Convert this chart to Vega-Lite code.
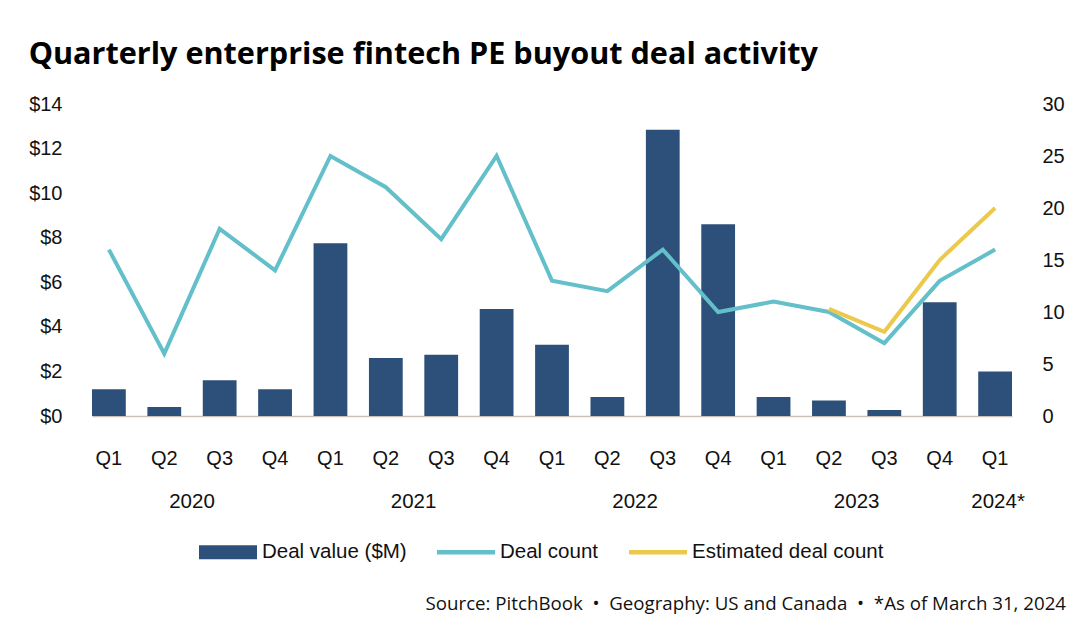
{
  "$schema": "https://vega.github.io/schema/vega-lite/v6.json",
  "width": 920,
  "height": 312,
  "autosize": "none",
  "padding": {"left": 92, "top": 104, "right": 80, "bottom": 220},
  "background": "white",
  "title": {
    "text": "Quarterly enterprise fintech PE buyout deal activity",
    "anchor": "start",
    "frame": "bounds",
    "font": "Open Sans",
    "fontSize": 30.6,
    "fontWeight": "bold",
    "color": "#000000",
    "offset": 23
  },
  "config": {
    "view": {"stroke": null},
    "font": "Liberation Sans",
    "axis": {"labelFont": "Liberation Sans", "labelFontSize": 20, "labelColor": "#111111", "grid": false, "ticks": false, "title": null}
  },
  "datasets": {
    "quarters": [
      {"period": "2020 Q1", "Deal value ($M)": 1.2, "Deal count": 16},
      {"period": "2020 Q2", "Deal value ($M)": 0.4, "Deal count": 6},
      {"period": "2020 Q3", "Deal value ($M)": 1.6, "Deal count": 18},
      {"period": "2020 Q4", "Deal value ($M)": 1.2, "Deal count": 14},
      {"period": "2021 Q1", "Deal value ($M)": 7.75, "Deal count": 25},
      {"period": "2021 Q2", "Deal value ($M)": 2.6, "Deal count": 22},
      {"period": "2021 Q3", "Deal value ($M)": 2.75, "Deal count": 17},
      {"period": "2021 Q4", "Deal value ($M)": 4.8, "Deal count": 25},
      {"period": "2022 Q1", "Deal value ($M)": 3.2, "Deal count": 13},
      {"period": "2022 Q2", "Deal value ($M)": 0.85, "Deal count": 12},
      {"period": "2022 Q3", "Deal value ($M)": 12.85, "Deal count": 16},
      {"period": "2022 Q4", "Deal value ($M)": 8.6, "Deal count": 10},
      {"period": "2023 Q1", "Deal value ($M)": 0.85, "Deal count": 11},
      {"period": "2023 Q2", "Deal value ($M)": 0.7, "Deal count": 10, "Estimated deal count": 10.3},
      {"period": "2023 Q3", "Deal value ($M)": 0.27, "Deal count": 7, "Estimated deal count": 8.1},
      {"period": "2023 Q4", "Deal value ($M)": 5.1, "Deal count": 13, "Estimated deal count": 15},
      {"period": "2024 Q1", "Deal value ($M)": 2.0, "Deal count": 16, "Estimated deal count": 20}
    ],
    "years": [
      {"period": "2020 Q2", "year": "2020"},
      {"period": "2021 Q2", "year": "2021"},
      {"period": "2022 Q2", "year": "2022"},
      {"period": "2023 Q2", "year": "2023"}
    ],
    "lastyear": [{"period": "2024 Q1", "year": "2024*"}],
    "source": [{"note": "Source: PitchBook\u00a0\u00a0•\u00a0\u00a0Geography: US and Canada\u00a0\u00a0•\u00a0\u00a0*As of March 31, 2024"}]
  },
  "layer": [
    {
      "data": {"name": "quarters"},
      "mark": {"type": "bar"},
      "encoding": {
        "x": {
          "field": "period", "type": "ordinal", "sort": null,
          "scale": {"paddingInner": 0.39, "paddingOuter": 0},
          "axis": {
            "labelExpr": "slice(datum.value, 5)",
            "labelAngle": 0,
            "labelPadding": 32,
            "domain": true,
            "domainColor": "#c9c2b9",
            "domainWidth": 1.5
          }
        },
        "y": {
          "field": "Deal value ($M)", "type": "quantitative",
          "scale": {"domain": [0, 14], "nice": false},
          "axis": {"orient": "left", "values": [0, 2, 4, 6, 8, 10, 12, 14], "labelExpr": "'$' + datum.value", "domain": false, "labelPadding": 30}
        },
        "color": {
          "datum": "Deal value ($M)", "type": "nominal",
          "scale": {"domain": ["Deal value ($M)", "Deal count", "Estimated deal count"], "range": ["#2c5079", "#63bfc9", "#ecc94a"]},
          "legend": {
            "orient": "none",
            "legendX": 107,
            "legendY": 419,
            "direction": "horizontal",
            "title": null,
            "symbolSize": 3364,
            "labelFont": "Liberation Sans",
            "labelFontSize": 20.5,
            "labelColor": "#111111",
            "labelOffset": 5,
            "labelLimit": 400,
            "columnPadding": 30,
            "encode": {
              "symbols": {
                "update": {
                  "shape": {"signal": "datum.value === 'Deal value ($M)' ? 'M-1,-0.24H1V0.24H-1Z' : 'M-1,-0.075H1V0.075H-1Z'"},
                  "fill": {"scale": "color", "field": "value"},
                  "stroke": {"value": "transparent"},
                  "strokeWidth": {"value": 0},
                  "opacity": {"value": 1}
                }
              }
            }
          }
        }
      }
    },
    {
      "data": {"name": "quarters"},
      "transform": [
        {"fold": ["Deal count", "Estimated deal count"], "as": ["series", "count"]},
        {"filter": "isValid(datum.count)"}
      ],
      "mark": {"type": "line", "strokeWidth": 4},
      "encoding": {
        "x": {"field": "period", "type": "ordinal", "sort": null},
        "y": {
          "field": "count", "type": "quantitative",
          "scale": {"domain": [0, 30], "nice": false},
          "axis": {"orient": "right", "values": [0, 5, 10, 15, 20, 25, 30], "domain": false, "labelPadding": 30}
        },
        "color": {"field": "series", "type": "nominal", "legend": {"title": null}}
      }
    },
    {
      "data": {"name": "years"},
      "mark": {"type": "text", "dx": 27.7, "font": "Liberation Sans", "fontSize": 20.5, "color": "#111111", "baseline": "middle"},
      "encoding": {
        "x": {"field": "period", "type": "ordinal", "sort": null},
        "y": {"value": 398},
        "text": {"field": "year"}
      }
    },
    {
      "data": {"name": "lastyear"},
      "mark": {"type": "text", "dx": 3, "font": "Liberation Sans", "fontSize": 20.5, "color": "#111111", "baseline": "middle"},
      "encoding": {
        "x": {"field": "period", "type": "ordinal", "sort": null},
        "y": {"value": 398},
        "text": {"field": "year"}
      }
    },
    {
      "data": {"name": "source"},
      "mark": {"type": "text", "align": "right", "baseline": "middle", "font": "Open Sans", "fontSize": 18.7, "color": "#111111"},
      "encoding": {
        "x": {"value": 974},
        "y": {"value": 500},
        "text": {"field": "note"}
      }
    }
  ],
  "resolve": {"scale": {"y": "independent"}}
}
